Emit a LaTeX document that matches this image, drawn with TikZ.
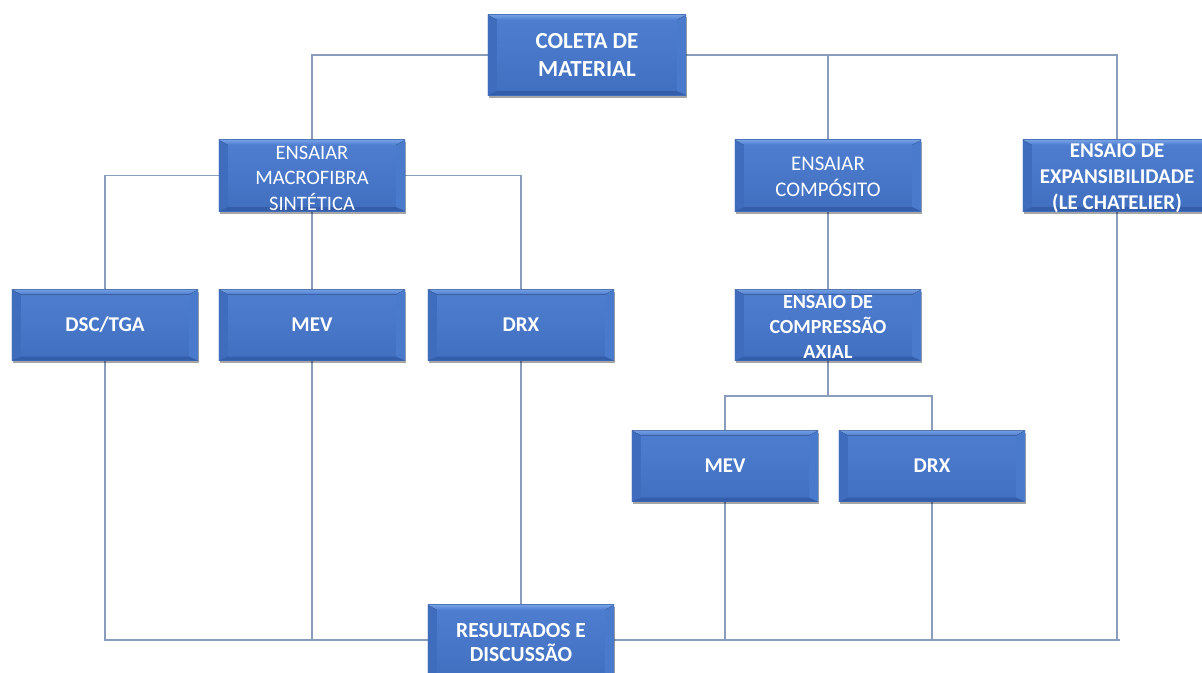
\documentclass[tikz,border=0pt]{standalone}
\usepackage{fontspec}
\setmainfont{Carlito}
\usetikzlibrary{shadows}
\pgfdeclarelayer{lines}
\pgfdeclarelayer{boxes}
\pgfsetlayers{lines,boxes,main}
\definecolor{boxtop}{HTML}{4F7ED0}
\definecolor{boxbot}{HTML}{416FC0}
\definecolor{bevT}{HTML}{74A0E6}
\definecolor{bevL}{HTML}{3F6CBC}
\definecolor{bevR}{HTML}{4A7ACB}
\definecolor{bevB}{HTML}{345EAA}
\definecolor{conn}{HTML}{8A9CBB}
\newcommand\boxof[1]{%
\fill[top color=boxtop, bottom color=boxbot, drop shadow={shadow xshift=1pt, shadow yshift=-2.5pt, opacity=0.35, fill=black}] (#1.north west) rectangle (#1.south east);
\fill[bevL] (#1.north west) -- ([shift={(9,5)}]#1.north west) -- ([shift={(9,-4)}]#1.south west) -- (#1.south west) -- cycle;
\fill[bevR] (#1.north east) -- ([shift={(-9,5)}]#1.north east) -- ([shift={(-9,-4)}]#1.south east) -- (#1.south east) -- cycle;
\fill[top color=bevT, bottom color=boxtop] (#1.north west) -- (#1.north east) -- ([shift={(-9,5)}]#1.north east) -- ([shift={(9,5)}]#1.north west) -- cycle;
\fill[bevB] (#1.south west) -- ([shift={(9,-4)}]#1.south west) -- ([shift={(-9,-4)}]#1.south east) -- (#1.south east) -- cycle;
}
\begin{document}
\begin{tikzpicture}[x=1pt,y=-1pt,
  box/.style={inner sep=0pt, minimum width=186pt, minimum height=71pt},
  txt/.style={text=white, align=center, inner sep=0pt,
    font=\fontsize{21}{26}\selectfont\bfseries},
  link/.style={draw=conn, line width=1.1pt}]
\useasboundingbox (0,0) rectangle (1202,672);

% boxes
\node[box, minimum width=198pt, minimum height=80pt] (coleta) at (587,55) {};
\node[box] (macro) at (312,175.5) {};
\node[box] (comp) at (828,175.5) {};
\node[box, minimum width=188pt] (exp) at (1117,175.5) {};
\node[box] (dsc) at (105,325) {};
\node[box] (mev1) at (312,325) {};
\node[box] (drx1) at (521,325) {};
\node[box] (axial) at (828,325) {};
\node[box] (mev2) at (725,466) {};
\node[box] (drx2) at (932,466) {};
\node[box, minimum height=74pt] (res) at (521,642) {};

% texts
\node[txt, font=\fontsize{23}{27.5}\selectfont\bfseries] (coleta-t) at (coleta.center) {COLETA DE\\MATERIAL};
\node[txt, font=\fontsize{20.5}{25.5}\selectfont] (macro-t) at ([yshift=-2.5pt]macro.center) {ENSAIAR\\MACROFIBRA\\SINTÉTICA};
\node[txt, font=\fontsize{20.8}{25.5}\selectfont] (comp-t) at ([yshift=-1.5pt]comp.center) {ENSAIAR\\COMPÓSITO};
\node[txt] (exp-t) at ([yshift=-2.5pt]exp.center) {ENSAIO DE\\EXPANSIBILIDADE\\(LE CHATELIER)};
\node[txt] (dsc-t) at (dsc.center) {DSC/TGA};
\node[txt] (mev1-t) at (mev1.center) {MEV};
\node[txt] (drx1-t) at (drx1.center) {DRX};
\node[txt, font=\fontsize{20}{25}\selectfont\bfseries] (axial-t) at ([yshift=-2pt]axial.center) {ENSAIO DE\\COMPRESSÃO\\AXIAL};
\node[txt] (mev2-t) at (mev2.center) {MEV};
\node[txt] (drx2-t) at (drx2.center) {DRX};
\node[txt, font=\fontsize{21.5}{24.5}\selectfont\bfseries] (res-t) at ([yshift=-0.5pt]res.center) {RESULTADOS E\\DISCUSSÃO};

\begin{pgfonlayer}{boxes}
\foreach \n in {coleta,macro,comp,exp,dsc,mev1,drx1,axial,mev2,drx2,res}{\boxof{\n}}
\end{pgfonlayer}

\coordinate (split) at (828,396);
\coordinate (bend) at (1120,640);

\begin{pgfonlayer}{lines}
\draw[link] (coleta.west) -| (macro.north);
\draw[link] (coleta.east) -| (exp.north);
\draw[link] (comp.north) -- (comp.north |- coleta.east);
\draw[link] (macro.west) -| (dsc.north);
\draw[link] (macro.east) -| (drx1.north);
\draw[link] (macro.south) -- (mev1.north);
\draw[link] (comp.south) -- (axial.north);
\draw[link] (axial.south) -- (split);
\draw[link] (mev2.north) |- (split) -| (drx2.north);
\draw[link] (dsc.south) |- (bend);
\draw[link] (mev1.south) -- (mev1.south |- bend);
\draw[link] (drx1.south) -- (res.north);
\draw[link] (mev2.south) -- (mev2.south |- bend);
\draw[link] (drx2.south) -- (drx2.south |- bend);
\draw[link] (exp.south) -- (exp.south |- bend);
\end{pgfonlayer}
\end{tikzpicture}
\end{document}
